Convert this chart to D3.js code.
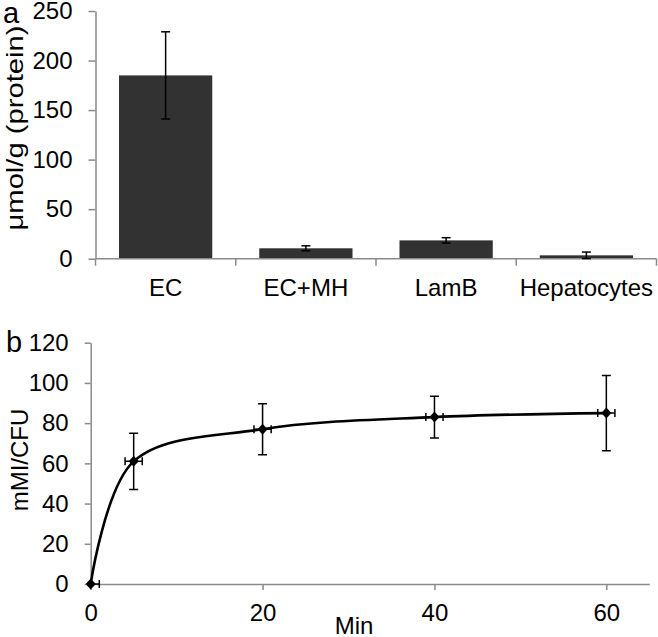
<!DOCTYPE html>
<html><head><meta charset="utf-8">
<script src="https://cdn.jsdelivr.net/npm/d3@7"></script>
<style>
html,body{margin:0;padding:0;background:#fff;}
svg{display:block;font-family:"Liberation Sans",Arial,sans-serif;}
</style></head>
<body>
<svg id="chart" width="658" height="637"></svg>
<script>
// Panel a data
const categories = ["EC", "EC+MH", "LamB", "Hepatocytes"];
const barValues = [185, 10.5, 18.5, 3.4];
const barErrors = [44, 2.5, 2.7, 3.3];
const yTicksA = [0, 50, 100, 150, 200, 250];

// Panel b data
const minutes = [0, 5, 20, 40, 60];
const uptake = [0, 61, 77, 83, 85];
const uptakeErr = [0, 14, 12.7, 10.4, 18.7];
const minutesErr = [1, 1, 1, 1, 1];
const yTicksB = [0, 20, 40, 60, 80, 100, 120];
const xTicksB = [0, 20, 40, 60];

const svg = d3.select("#chart");
const axisColor = "#8a8a8a";
const fs = 24;

// ---------- Panel a ----------
const yA = d3.scaleLinear().domain([0, 250]).range([258.7, 11]);
const pad = 0.335;
const xA = d3.scaleBand().domain(categories).range([95.5, 656.5]).paddingInner(pad).paddingOuter(pad / 2);
const gA = svg.append("g");

const yAxisA = d3.axisLeft(yA).tickValues(yTicksA).tickSize(7).tickSizeOuter(0).tickPadding(16);
gA.append("g").attr("transform", "translate(95.5,0)").call(yAxisA)
  .call(g => { g.select(".domain").attr("stroke", axisColor).attr("stroke-width", 1.5);
    g.selectAll(".tick line").attr("stroke", axisColor).attr("stroke-width", 1.5);
    g.selectAll("text").attr("font-size", fs).attr("fill", "#000").attr("font-family", null); });

// bars
gA.selectAll("rect.bar").data(categories).join("rect")
  .attr("x", d => xA(d)).attr("width", xA.bandwidth())
  .attr("y", (d, i) => yA(barValues[i])).attr("height", (d, i) => yA(0) - yA(barValues[i]))
  .attr("fill", "#323232");

// x axis a
const step = xA.step();
const bounds = d3.range(categories.length + 1).map(i => 95.5 + i * step);
gA.append("line").attr("x1", 95.5).attr("x2", 656.5).attr("y1", yA(0)).attr("y2", yA(0))
  .attr("stroke", axisColor).attr("stroke-width", 1.5);
gA.selectAll("line.xt").data(bounds).join("line").attr("class", "xt")
  .attr("x1", d => d).attr("x2", d => d).attr("y1", yA(0)).attr("y2", yA(0) + 7)
  .attr("stroke", axisColor).attr("stroke-width", 1.5);
gA.selectAll("text.cat").data(categories).join("text").attr("class", "cat")
  .attr("x", d => xA(d) + xA.bandwidth() / 2).attr("y", 296)
  .attr("text-anchor", "middle").attr("font-size", fs).text(d => d);

// error bars a
const errA = gA.append("g").attr("stroke", "#000").attr("stroke-width", 1.5);
categories.forEach((c, i) => {
  const cx = xA(c) + xA.bandwidth() / 2;
  const lo = Math.max(0, barValues[i] - barErrors[i]), hi = barValues[i] + barErrors[i];
  errA.append("line").attr("x1", cx).attr("x2", cx).attr("y1", yA(lo)).attr("y2", yA(hi));
  errA.append("line").attr("x1", cx - 4.5).attr("x2", cx + 4.5).attr("y1", yA(hi)).attr("y2", yA(hi));
  errA.append("line").attr("x1", cx - 4.5).attr("x2", cx + 4.5).attr("y1", yA(lo)).attr("y2", yA(lo));
});

gA.append("text").attr("transform", "translate(23,128) rotate(-90)")
  .attr("text-anchor", "middle").attr("font-size", fs)
  .attr("textLength", 205).attr("lengthAdjust", "spacingAndGlyphs").text("μmol/g (protein)");
gA.append("text").attr("x", 3).attr("y", 23).attr("font-size", 29).text("a");

// ---------- Panel b ----------
const xB = d3.scaleLinear().domain([0, 65]).range([90.7, 649.3]);
const yB = d3.scaleLinear().domain([0, 120]).range([584, 342.7]);
const gB = svg.append("g");

gB.append("g").attr("transform", "translate(90.7,0)")
  .call(d3.axisLeft(yB).tickValues(yTicksB).tickSize(6).tickSizeOuter(0).tickPadding(16))
  .call(g => { g.select(".domain").attr("stroke", axisColor).attr("stroke-width", 1.5);
    g.selectAll(".tick line").attr("stroke", axisColor).attr("stroke-width", 1.5);
    g.selectAll("text").attr("font-size", fs).attr("fill", "#000").attr("font-family", null); });

gB.append("g").attr("transform", "translate(0,584)")
  .call(d3.axisBottom(xB).tickValues(xTicksB).tickSize(6).tickSizeOuter(0).tickPadding(14))
  .call(g => { g.select(".domain").attr("stroke", axisColor).attr("stroke-width", 1.5);
    g.selectAll(".tick line").attr("stroke", axisColor).attr("stroke-width", 1.5);
    g.selectAll("text").attr("font-size", fs).attr("fill", "#000").attr("font-family", null); });

svg.append("defs").append("clipPath").attr("id", "plotB").append("rect")
  .attr("x", 90.7).attr("y", 330).attr("width", 570).attr("height", 260);

const pts = minutes.map((m, i) => [m, uptake[i]]);
const line = d3.line().x(d => xB(d[0])).y(d => yB(d[1])).curve(d3.curveCatmullRom.alpha(0.5));
gB.append("path").datum(pts).attr("d", line).attr("fill", "none").attr("stroke", "#000").attr("stroke-width", 2.6);

const errB = gB.append("g").attr("stroke", "#000").attr("stroke-width", 1.5).attr("clip-path", "url(#plotB)");
minutes.forEach((m, i) => {
  const cx = xB(m), cy = yB(uptake[i]);
  if (uptakeErr[i] > 0) {
    const t = yB(uptake[i] + uptakeErr[i]), b = yB(uptake[i] - uptakeErr[i]);
    errB.append("line").attr("x1", cx).attr("x2", cx).attr("y1", t).attr("y2", b);
    errB.append("line").attr("x1", cx - 4.5).attr("x2", cx + 4.5).attr("y1", t).attr("y2", t);
    errB.append("line").attr("x1", cx - 4.5).attr("x2", cx + 4.5).attr("y1", b).attr("y2", b);
  }
  const l = xB(m - minutesErr[i]), r = xB(m + minutesErr[i]);
  errB.append("line").attr("x1", l).attr("x2", r).attr("y1", cy).attr("y2", cy);
  errB.append("line").attr("x1", l).attr("x2", l).attr("y1", cy - 4).attr("y2", cy + 4);
  errB.append("line").attr("x1", r).attr("x2", r).attr("y1", cy - 4).attr("y2", cy + 4);
});

gB.selectAll("path.pt").data(pts).join("path").attr("class", "pt")
  .attr("transform", d => `translate(${xB(d[0])},${yB(d[1])})`)
  .attr("d", "M0,-5.5L5,0L0,5.5L-5,0Z").attr("fill", "#000");

gB.append("text").attr("transform", "translate(28,460) rotate(-90)")
  .attr("text-anchor", "middle").attr("font-size", fs).text("mMI/CFU");
gB.append("text").attr("x", 354).attr("y", 634).attr("text-anchor", "middle").attr("font-size", fs).text("Min");
gB.append("text").attr("x", 6).attr("y", 352).attr("font-size", 29).text("b");
</script>
</body></html>
